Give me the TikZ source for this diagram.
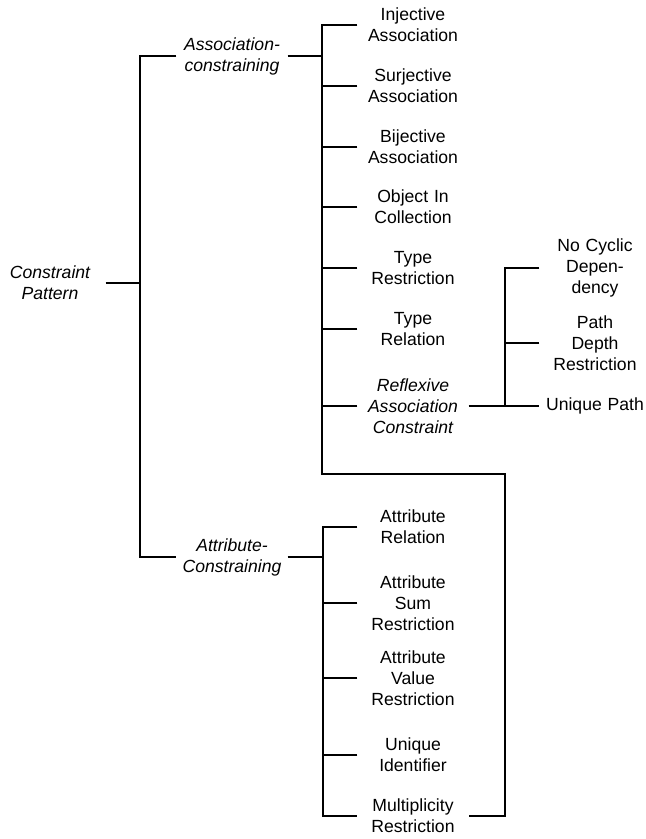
\documentclass[tikz,border=0pt]{standalone}
\usepackage{fontspec}
\setmainfont{Liberation Sans}
\usepackage{tikz}
\usetikzlibrary{calc}
\usetikzlibrary{positioning}

\begin{document}
\begin{tikzpicture}
 		[
 		x=0.75pt, y=-0.75pt,
 		font=\fontsize{13.2}{15.75}\selectfont,
 		line width=0.9pt
 		]
 		
 		% Node styles: plain leaves and italic groups
 		\tikzstyle{leaf node}=[text width=82.5pt, align=center, inner sep=0];
 		\tikzstyle{group node}=[leaf node, font=\fontsize{13.2}{15.75}\selectfont\itshape];
 		\tikzstyle{thick edge}=[line width=1.6pt];
 		
 		\useasboundingbox (0,0) rectangle (646,839);
 		
 		% The root and the two groups
 		\node(cp)[group node] at (50,283){Constraint\\Pattern};
 		\node(assoc)[group node] at (232,56){Association-\\constraining};
 		\node(attr)[group node] at (232,557){Attribute-\\Constraining};
 		
 		% Association patterns
 		\node(inj)[leaf node] at (413,25){Injective\\Association};
 		\node(surj)[leaf node] at (413,86){Surjective\\Association};
 		\node(bij)[leaf node] at (413,147){Bijective\\Association};
 		\node(obj)[leaf node] at (413,207){Object In\\Collection};
 		\node(trs)[leaf node] at (413,268){Type\\Restriction};
 		\node(trl)[leaf node] at (413,329){Type\\Relation};
 		\node(rac)[group node] at (413,406){Reflexive\\Association\\Constraint};
 		
 		% Reflexive patterns
 		\node(ncd)[leaf node] at (595,268){No Cyclic\\Depen-\\dency};
 		\node(pdr)[leaf node] at (595,343){Path\\Depth\\Restriction};
 		\node(upath)[leaf node] at (595,406){Unique Path};
 		
 		% Attribute patterns
 		\node(arel)[leaf node] at (413,527){Attribute\\Relation};
 		\node(asum)[leaf node] at (413,603){Attribute\\Sum\\Restriction};
 		\node(aval)[leaf node] at (413,678){Attribute\\Value\\Restriction};
 		\node(uid)[leaf node] at (413,755){Unique\\Identifier};
 		\node(mult)[leaf node] at (413,816){Multiplicity\\Restriction};
 		
 		% Bus points
 		\coordinate(cb) at (140,283);
 		\coordinate(ab) at (322,56);
 		\coordinate(ab-end) at (322,474);
 		\coordinate(loop) at (505,474);
 		\coordinate(rb) at (505,406);
 		\coordinate(atb) at (323,557);
 		
 		% Root level
 		\draw[thick edge](cp.east)to(cb);
 		\draw(assoc.west) -| (cb) |- (attr.west);
 		
 		% Association level
 		\draw[thick edge](assoc.east)to(ab);
 		\draw(inj.west) -| (ab-end) -- (loop) |- (mult.east);
 		\foreach\n in {surj, bij, obj, trs, trl, rac} \draw(\n.west)to(\n.west -| ab);
 		
 		% Reflexive level
 		\draw[thick edge](rac.east)to(rb);
 		\draw(ncd.west) -| (rb) -- (upath.west);
 		\draw(pdr.west)to(pdr.west -| rb);
 		
 		% Attribute level
 		\draw[thick edge](attr.east)to(atb);
 		\draw(arel.west) -| (atb) |- (mult.west);
 		\foreach\n in {asum, aval, uid} \draw(\n.west)to(\n.west -| atb);
 		
 		\end{tikzpicture}
\end{document}
